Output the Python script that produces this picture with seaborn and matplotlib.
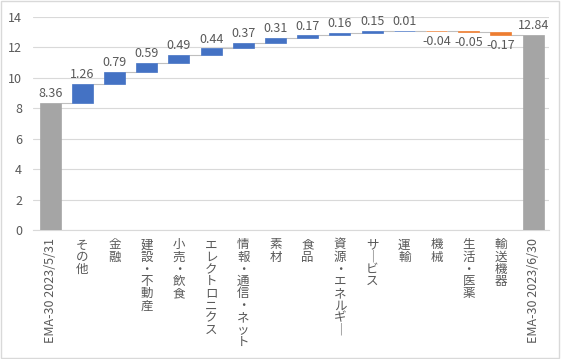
import numpy as np
import pandas as pd
import matplotlib
import matplotlib.pyplot as plt
import seaborn as sns
from matplotlib.patches import Rectangle

matplotlib.use('Agg')

# Chart data
categories = ['EMA-30 2023/5/31', 'その他', '金融', '建設・不動産', '小売・飲食', 'エレクトロニクス',
              '情報・通信・ネット', '素材', '食品', '資源・エネルギー', 'サービス', '運輸',
              '機械', '生活・医薬', '輸送機器', 'EMA-30 2023/6/30']
start_value = 8.36
changes = [1.26, 0.79, 0.59, 0.49, 0.44, 0.37, 0.31, 0.17, 0.16, 0.15, 0.01, -0.04, -0.05, -0.17]
end_value = 12.84
y_ticks = [0, 2, 4, 6, 8, 10, 12, 14]

# Colours (Excel waterfall defaults)
col_total = '#A5A5A5'
col_up = '#4472C4'
col_down = '#ED7D31'
col_text = '#595959'
col_grid = '#D9D9D9'

sns.set_theme(style='white')
plt.rcParams['font.family'] = ['Noto Sans CJK JP', 'DejaVu Sans']


# Build waterfall table: bottom and height of every bar
def build_waterfall(start, deltas, end):
    levels = start + np.cumsum(deltas)
    prev = np.concatenate([[start], levels[:-1]])
    bottoms = np.concatenate([[0], prev, [0]])
    heights = np.concatenate([[start], deltas, [end]])
    kinds = ['total'] + ['up' if d >= 0 else 'down' for d in deltas] + ['total']
    return pd.DataFrame({'category': categories, 'bottom': bottoms,
                         'height': heights, 'kind': kinds})


# Japanese labels are written vertically (one char per line), latin ones rotated
def vertical_label(text):
    if text.isascii():
        return text
    return '\n'.join(text.replace('ー', '｜'))


df = build_waterfall(start_value, changes, end_value)
color_map = {'total': col_total, 'up': col_up, 'down': col_down}

fig, ax = plt.subplots(figsize=(5.61, 3.59), dpi=100)
plt.subplots_adjust(left=0.059, right=0.979, top=0.953, bottom=0.359)

sns.barplot(data=df, x='category', y='height', order=categories,
            bottom=df['bottom'].values, width=0.65, errorbar=None,
            color=col_up, ax=ax, zorder=3)
for patch, kind in zip(ax.patches, df['kind']):
    patch.set_facecolor(color_map[kind])
    # thin edge so the very small bars stay visible like in Excel
    patch.set_edgecolor(color_map[kind])
    patch.set_linewidth(0.5)

# Connector lines between bars
tops = (df['bottom'] + df['height']).values
levels = np.where(df['kind'] == 'total', df['height'], tops)
half = 0.65 / 2
ax.hlines(levels[:-1], np.arange(len(df) - 1) + half, np.arange(1, len(df)) - half,
          colors='#BFBFBF', lw=0.8, zorder=2)

# Data labels
for i, row in df.iterrows():
    top = row['bottom'] + row['height']
    if row['kind'] == 'down':
        ax.annotate(f"{row['height']:.2f}", (i, top), xytext=(0, -3), textcoords='offset points',
                    ha='center', va='top', fontsize=9, color=col_text)
    else:
        ax.annotate(f"{row['height']:.2f}", (i, top), xytext=(0, 2), textcoords='offset points',
                    ha='center', va='bottom', fontsize=9, color=col_text)

ax.set_ylim(0, 14)
ax.set_xlim(-0.53, len(df) - 0.5)
ax.set_yticks(y_ticks)
ax.yaxis.grid(True, color=col_grid, lw=0.8, zorder=0)
ax.set_axisbelow(True)
ax.set_xlabel('')
ax.set_ylabel('')

ax.set_xticks(range(len(categories)))
ax.set_xticklabels([vertical_label(c) for c in categories], linespacing=0.92)
for lbl, c in zip(ax.get_xticklabels(), categories):
    if c.isascii():
        lbl.set_rotation(90)
ax.tick_params(axis='x', length=0, pad=6, labelsize=9, labelcolor=col_text)
ax.tick_params(axis='y', length=0, pad=8, labelsize=9, labelcolor=col_text)

for side in ['top', 'left', 'right']:
    ax.spines[side].set_visible(False)
ax.spines['bottom'].set_color(col_grid)
ax.spines['bottom'].set_linewidth(0.8)

# Chart area border
fig.patches.append(Rectangle((0.002, 0.003), 0.995, 0.993, transform=fig.transFigure,
                             fill=False, edgecolor=col_grid, lw=1))

plt.savefig('out.png', dpi=100)
plt.close()
